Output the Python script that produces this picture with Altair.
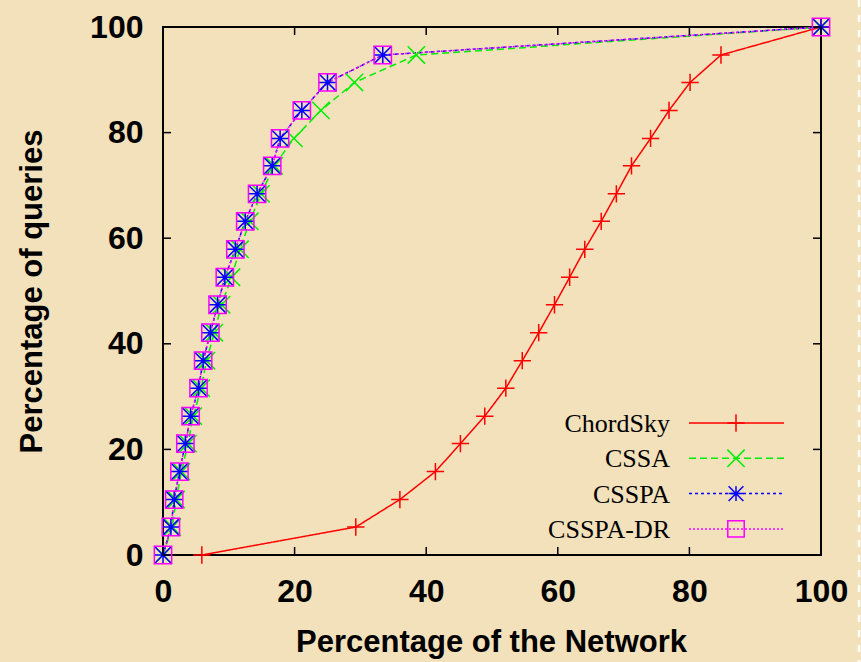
import altair as alt
import pandas as pd

# Percentage of queries (y) reached at each percentage of the network (x)
queries_pct = [0, 5.3, 10.5, 15.8, 21.1, 26.3, 31.6, 36.8, 42.1, 47.4,
               52.6, 57.9, 63.2, 68.4, 73.7, 78.9, 84.2, 89.5, 94.7, 100]

chordsky_x = [5.9, 29.3, 36.0, 41.4, 45.2, 48.9, 52.1, 54.6, 57.1, 59.5,
              61.8, 64.1, 66.6, 68.9, 71.2, 74.1, 76.9, 80.1, 84.8, 100]
cssa_x = [0, 1.4, 2.0, 2.8, 3.8, 4.6, 5.8, 6.6, 7.8, 8.9,
          10.4, 11.7, 13.2, 14.9, 16.9, 19.9, 24.0, 29.1, 38.5, 100]
csspa_x = [0, 1.2, 1.7, 2.5, 3.4, 4.2, 5.4, 6.1, 7.2, 8.3,
           9.4, 11.0, 12.5, 14.3, 16.6, 17.8, 21.1, 25.0, 33.4, 100]
csspa_dr_x = [0, 1.2, 1.7, 2.5, 3.4, 4.2, 5.4, 6.1, 7.2, 8.3,
              9.4, 11.0, 12.5, 14.3, 16.6, 17.8, 21.1, 25.0, 33.4, 100]

series_names = ["ChordSky", "CSSA", "CSSPA", "CSSPA-DR"]
series_x = [chordsky_x, cssa_x, csspa_x, csspa_dr_x]

axis_ticks = [0, 20, 40, 60, 80, 100]

# styling per series
colors = ["#ff0000", "#00ee00", "#0000ff", "#ff00ff"]
dashes = [[1, 0], [7, 4], [3, 3], [2, 2]]
plus_path = "M-1,0H1M0,-1V1"
x_path = "M-1,-1L1,1M-1,1L1,-1"
star_path = "M-1,0H1M0,-1V1M-1,-1L1,1M-1,1L1,-1"
square_path = "M-1,-1H1V1H-1Z"
shapes = [plus_path, x_path, star_path, square_path]
sizes = [300, 300, 220, 270]

W, H = 658, 528
BG = "#F2E1BA"
SANS = "'Liberation Sans', Arial, Helvetica, sans-serif"
SERIF = "'Liberation Serif', 'Times New Roman', serif"

rows = []
for name, xs in zip(series_names, series_x):
    for xv, yv in zip(xs, queries_pct):
        rows.append({"series": name, "net": xv, "queries": yv})
df = pd.DataFrame(rows)

x_scale = alt.Scale(domain=[0, 100], nice=False)
y_scale = alt.Scale(domain=[0, 100], nice=False)

label_style = dict(labelFont=SANS, labelFontSize=32, labelFontWeight="bold",
                   labelColor="black", labelFlush=False, labelOverlap=False)
title_style = dict(titleFont=SANS, titleFontSize=31, titleFontWeight="bold",
                   titleColor="black")

x_enc = alt.X(
    "net:Q", scale=x_scale,
    axis=alt.Axis(
        values=axis_ticks, title="Percentage of the Network", grid=False,
        domain=False, ticks=False, tickSize=0, labelPadding=21,
        titleX=W / 2 - 1, titleY=96, titleBaseline="alphabetic", titleAlign="center",
        **label_style, **title_style,
    ),
)
y_enc = alt.Y(
    "queries:Q", scale=y_scale,
    axis=alt.Axis(
        values=axis_ticks, title="Percentage of queries", grid=False,
        domain=False, ticks=False, tickSize=0, labelPadding=20,
        titleX=-131, titleY=H / 2, titleBaseline="middle", titleAlign="center",
        titleAngle=-90,
        **label_style, **title_style,
    ),
)

color_enc = alt.Color("series:N", scale=alt.Scale(domain=series_names, range=colors), legend=None)
dash_enc = alt.StrokeDash("series:N", scale=alt.Scale(domain=series_names, range=dashes), legend=None)
shape_enc = alt.Shape("series:N", scale=alt.Scale(domain=series_names, range=shapes), legend=None)
size_enc = alt.Size("series:N", scale=alt.Scale(domain=series_names, range=sizes), legend=None)

base = alt.Chart(df)

lines = base.mark_line(strokeWidth=1.5).encode(
    x=x_enc, y=y_enc, color=color_enc, strokeDash=dash_enc, detail="series:N",
    order=alt.Order("queries:Q"),
)
points = base.mark_point(filled=False, strokeWidth=1.5, opacity=1).encode(
    x=alt.X("net:Q", scale=x_scale), y=alt.Y("queries:Q", scale=y_scale),
    color=color_enc, shape=shape_enc, size=size_enc,
)

# inward tick marks on all four sides of the frame
tick_df = pd.DataFrame({"v": axis_ticks})
tick_len = 8
tick_style = dict(color="black", strokeWidth=1.5)
ticks_bottom = alt.Chart(tick_df).mark_rule(**tick_style).encode(
    x=alt.X("v:Q", scale=x_scale), y=alt.value(H), y2=alt.value(H - tick_len))
ticks_top = alt.Chart(tick_df).mark_rule(**tick_style).encode(
    x=alt.X("v:Q", scale=x_scale), y=alt.value(0), y2=alt.value(tick_len))
ticks_left = alt.Chart(tick_df).mark_rule(**tick_style).encode(
    y=alt.Y("v:Q", scale=y_scale), x=alt.value(0), x2=alt.value(tick_len))
ticks_right = alt.Chart(tick_df).mark_rule(**tick_style).encode(
    y=alt.Y("v:Q", scale=y_scale), x=alt.value(W), x2=alt.value(W - tick_len))

# key in the lower right corner: label, line sample, marker
legend_layers = []
for i, name in enumerate(series_names):
    ly = 396 + 35.3 * i
    one = alt.Chart(pd.DataFrame({"series": [name]}))
    legend_layers.append(one.mark_rule(
        color=colors[i], strokeWidth=1.5, strokeDash=dashes[i]).encode(
        x=alt.value(526), x2=alt.value(621), y=alt.value(ly)))
    legend_layers.append(one.mark_point(
        color=colors[i], filled=False, strokeWidth=1.5, opacity=1,
        shape=shapes[i], size=sizes[i]).encode(x=alt.value(573), y=alt.value(ly)))
    legend_layers.append(one.mark_text(
        font=SERIF, fontSize=26, align="right", baseline="middle", color="black").encode(
        x=alt.value(507), y=alt.value(ly + 1), text="series:N"))

# dashed white border on the right edge of the page
edge = alt.Chart(pd.DataFrame({"e": [0]})).mark_rule(
    color="white", strokeWidth=2.5, strokeDash=[7, 8]).encode(
    x=alt.value(696), y=alt.value(-27), y2=alt.value(635))

chart = alt.layer(
    edge, lines, points, ticks_bottom, ticks_top, ticks_left, ticks_right, *legend_layers
).properties(
    width=W, height=H,
    autosize=alt.AutoSizeParams(type="none"),
    padding={"left": 163, "top": 27, "right": 40, "bottom": 107},
    background=BG,
).configure_view(
    stroke="black", strokeWidth=2, fill=BG,
)

chart.save("out.html", embed_options={"renderer": "svg", "actions": False})
